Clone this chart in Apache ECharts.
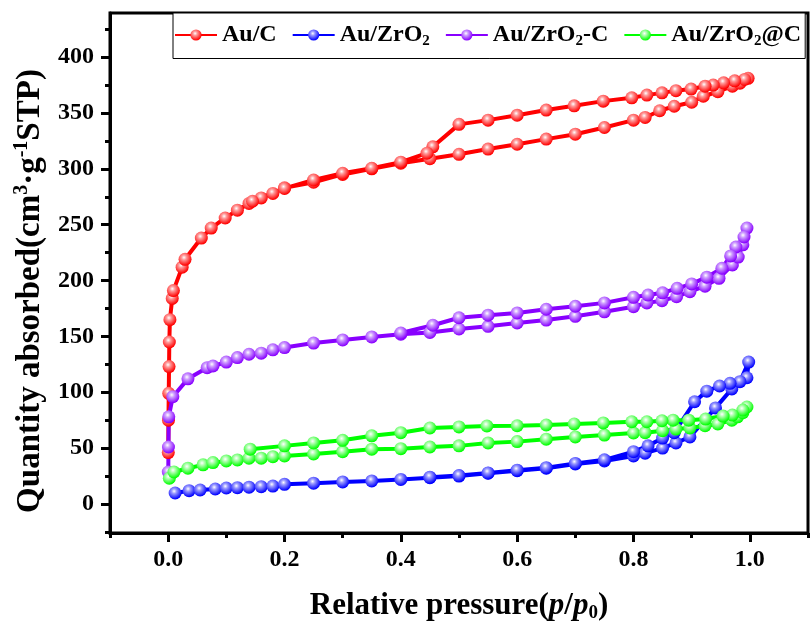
<!DOCTYPE html>
<html>
<head>
<meta charset="utf-8">
<script src="https://cdn.jsdelivr.net/npm/echarts@6.0.0/dist/echarts.min.js"></script>
<style>
  html, body { margin: 0; padding: 0; background: #fff; }
  #main { width: 811px; height: 628px; }
</style>
</head>
<body>
<div id="main"></div>
<script>
// N2 isotherms, [p/p0, quantity], adsorption then desorption
var auC_ads = [[0.0002,46],[0.0005,75],[0.001,99],[0.0015,123],[0.002,145],[0.003,165],[0.007,184],[0.009,191],
    [0.024,212],[0.029,219],[0.057,238],[0.074,247],[0.098,256],[0.119,263],[0.139,269],[0.16,274],[0.18,278],
    [0.2,283],[0.25,288],[0.3,295],[0.35,300],[0.4,305],[0.45,309],[0.5,313],[0.55,317.7],[0.6,322],[0.65,326.6],
    [0.7,331],[0.75,337],[0.8,343.6],[0.82,346],[0.845,352],[0.87,356],[0.9,359.6],[0.92,365],[0.945,369],
    [0.97,374],[0.983,376.7],[0.997,381]];
var auC_des = [[0.991,380],[0.974,378.8],[0.955,377],[0.937,375],[0.923,374],[0.899,371.4],[0.873,370],[0.849,368],
    [0.823,366],[0.797,363.6],[0.748,360.6],[0.698,356.4],[0.65,352.6],[0.6,348],[0.55,343.6],[0.5,339.8],
    [0.455,319.7],[0.445,314],[0.4,306],[0.35,300.5],[0.3,296],[0.25,290],[0.2,282.5],[0.145,271]];

var auZr_ads = [[0.012,9.8],[0.036,11.9],[0.055,12.5],[0.081,13.4],[0.1,14.3],[0.119,14.6],[0.139,15],[0.16,15.5],
    [0.18,16],[0.2,17.6],[0.25,18.6],[0.3,19.7],[0.35,20.6],[0.4,22],[0.45,23.5],[0.5,25],[0.55,27.5],[0.6,29.8],
    [0.65,32],[0.7,35.8],[0.75,38.5],[0.8,43],[0.82,45.5],[0.85,50],[0.873,54.6],[0.897,60],[0.941,86],
    [0.969,103],[0.995,113],[0.998,127]];
var auZr_des = [[0.983,109.5],[0.966,108],[0.948,105.6],[0.926,101],[0.905,91.5],[0.87,63.8],[0.85,59],
    [0.825,52],[0.8,46.8],[0.75,39.5],[0.7,36.3],[0.65,32.5],[0.6,30.2],[0.55,27.8],[0.5,25.4],[0.45,24]];

var auZrC_ads = [[0.0002,28.6],[0.0005,51],[0.001,78],[0.008,96],[0.034,112],[0.067,122],[0.077,123.5],[0.1,127],
    [0.119,131],[0.139,134],[0.16,135],[0.18,138],[0.2,140],[0.25,144],[0.3,146.8],[0.35,149.5],[0.4,152],
    [0.45,153.5],[0.5,156.6],[0.55,159],[0.6,162],[0.65,164.6],[0.7,168],[0.75,172],[0.8,176.6],[0.823,180],
    [0.849,182],[0.874,185.5],[0.897,190],[0.923,195],[0.947,202],[0.97,214],[0.98,221],[0.988,232],[0.995,247]];
var auZrC_des = [[0.99,239],[0.976,230],[0.967,222],[0.952,211],[0.926,203],[0.9,197],[0.875,193],[0.85,189],
    [0.825,187],[0.8,185],[0.75,180],[0.7,177],[0.65,174.3],[0.6,171],[0.55,169],[0.5,166.7],[0.455,160],[0.4,153]];

var auZrAtC_ads = [[0.002,23],[0.01,28.6],[0.034,32],[0.06,35],[0.077,37],[0.1,38.5],[0.119,39.4],[0.139,41],
    [0.16,41],[0.18,42.3],[0.2,43],[0.25,44.7],[0.3,46.8],[0.35,49],[0.4,49.5],[0.45,51],[0.5,52],[0.55,54.6],
    [0.6,55.8],[0.65,58],[0.7,60],[0.75,61.7],[0.8,63.5],[0.82,63.8],[0.85,65.6],[0.873,67],[0.897,68],
    [0.923,70],[0.945,71.6],[0.969,75],[0.979,78],[0.988,81.7],[0.995,86.8]];
var auZrAtC_des = [[0.988,84],[0.97,79.6],[0.954,78.7],[0.924,76],[0.895,75],[0.868,75],[0.849,74.5],
    [0.823,73.6],[0.797,73.6],[0.748,72.5],[0.698,71.6],[0.65,70.7],[0.6,70],[0.548,69.8],[0.5,69],[0.45,68],
    [0.4,63.8],[0.35,61],[0.3,57],[0.25,54.6],[0.2,52],[0.141,49]];

var names = ['Au/C', 'Au/ZrO2', 'Au/ZrO2-C', 'Au/ZrO2@C'];
var colors = ['#ff0000', '#0000ff', '#8800ff', '#00ff00'];
var lights = ['#ff9a9a', '#9a9aff', '#cfa0ff', '#b0ffb0'];
var xMajor = [0, 0.2, 0.4, 0.6, 0.8, 1.0];
var xMinor = [-0.1, 0.1, 0.3, 0.5, 0.7, 0.9, 1.1];
var yMajor = [0, 50, 100, 150, 200, 250, 300, 350, 400];
var yMinor = [-25, 25, 75, 125, 175, 225, 275, 325, 375, 425];

var serif = "'Liberation Serif', 'Times New Roman', serif";

function ball(i) {
    return {
        type: 'radial', x: 0.42, y: 0.36, r: 0.62,
        colorStops: [
            {offset: 0, color: '#ffffff'},
            {offset: 0.3, color: lights[i]},
            {offset: 1, color: colors[i]}
        ]
    };
}

var allData = [
    auC_ads.concat(auC_des),
    auZr_ads.concat(auZr_des),
    auZrC_ads.concat(auZrC_des),
    auZrAtC_ads.concat(auZrAtC_des)
];

var series = [];
for (var i = 0; i < names.length; i++) {
    series.push({
        name: names[i],
        type: 'line',
        data: allData[i],
        symbol: 'circle',
        symbolSize: 13,
        lineStyle: {color: colors[i], width: 4},
        itemStyle: {color: ball(i), borderWidth: 0},
        emphasis: {disabled: true}
    });
}

var myChart = echarts.init(document.getElementById('main'));
var option = {
    animation: false,
    backgroundColor: '#fff',
    grid: {
        left: 110, right: 3, top: 13, bottom: 95,
        show: true, borderColor: '#000', borderWidth: 3
    },
    legend: {
        data: names,
        left: 173, top: 13,
        width: 900,
        padding: [10, 4, 10, 1],
        itemGap: 15,
        itemWidth: 42, itemHeight: 14,
        borderColor: '#000', borderWidth: 1,
        backgroundColor: '#fff',
        formatter: function (name) {
            return name.replace('ZrO2', 'ZrO{s|2}');
        },
        textStyle: {
            fontFamily: serif, fontWeight: 'bold', fontSize: 24, color: '#000',
            rich: {
                s: {fontFamily: serif, fontWeight: 'bold', fontSize: 15, color: '#000', padding: [12, 0, 0, 0]}
            }
        }
    },
    xAxis: [{
        type: 'value', min: -0.1, max: 1.1, position: 'bottom',
        splitLine: {show: false},
        axisLine: {show: true, onZero: false, lineStyle: {color: '#000', width: 3}},
        axisTick: {show: true, length: 9, customValues: xMajor, lineStyle: {color: '#000', width: 3}},
        axisLabel: {
            customValues: xMajor, margin: 15,
            fontFamily: serif, fontWeight: 'bold', fontSize: 24, color: '#000',
            formatter: function (v) { return v.toFixed(1); }
        },
        name: 'Relative pressure({i|p}/{i|p}{sub|0})',
        nameLocation: 'middle', nameGap: 55,
        nameTextStyle: {
            fontFamily: serif, fontWeight: 'bold', fontSize: 31, color: '#000',
            rich: {
                i: {fontFamily: serif, fontWeight: 'bold', fontStyle: 'italic', fontSize: 31, color: '#000'},
                sub: {fontFamily: serif, fontWeight: 'bold', fontSize: 19, color: '#000', padding: [16, 0, 0, 0]}
            }
        }
    }, {
        type: 'value', min: -0.1, max: 1.1, position: 'bottom',
        splitLine: {show: false},
        axisLine: {show: false, onZero: false},
        axisTick: {show: true, length: 5, customValues: xMinor, lineStyle: {color: '#000', width: 3}},
        axisLabel: {show: false}
    }],
    yAxis: [{
        type: 'value', min: -26, max: 439.5, position: 'left',
        splitLine: {show: false},
        axisLine: {show: true, onZero: false, lineStyle: {color: '#000', width: 3}},
        axisTick: {show: true, length: 9, customValues: yMajor, lineStyle: {color: '#000', width: 3}},
        axisLabel: {
            customValues: yMajor, margin: 16,
            fontFamily: serif, fontWeight: 'bold', fontSize: 24, color: '#000'
        },
        name: 'Quantity absorbed(cm{sup|3}·g{sup|-1}STP)',
        nameLocation: 'middle', nameGap: 62, nameRotate: 90,
        nameTextStyle: {
            fontFamily: serif, fontWeight: 'bold', fontSize: 33, color: '#000',
            padding: [0, 36, 0, 0],
            rich: {
                sup: {fontFamily: serif, fontWeight: 'bold', fontSize: 20, color: '#000', padding: [0, 0, 16, 0]}
            }
        }
    }, {
        type: 'value', min: -26, max: 439.5, position: 'left',
        splitLine: {show: false},
        axisLine: {show: false, onZero: false},
        axisTick: {show: true, length: 5, customValues: yMinor, lineStyle: {color: '#000', width: 3}},
        axisLabel: {show: false}
    }],
    series: series
};
myChart.setOption(option);
</script>
</body>
</html>
